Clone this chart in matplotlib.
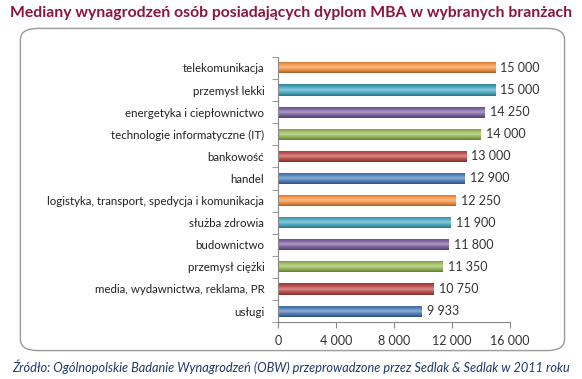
import matplotlib

matplotlib.use("Agg")
import matplotlib.pyplot as plt
import numpy as np
from matplotlib.colors import LinearSegmentedColormap, to_rgb
from matplotlib.patches import FancyBboxPatch

TITLE = "Mediany wynagrodzeń osób posiadających dyplom MBA w wybranych branżach"
SOURCE = "Źródło: Ogólnopolskie Badanie Wynagrodzeń (OBW) przeprowadzone przez Sedlak & Sedlak w 2011 roku"

categories = [
    "telekomunikacja",
    "przemysł lekki",
    "energetyka i ciepłownictwo",
    "technologie informatyczne (IT)",
    "bankowość",
    "handel",
    "logistyka, transport, spedycja i komunikacja",
    "służba zdrowia",
    "budownictwo",
    "przemysł ciężki",
    "media, wydawnictwa, reklama, PR",
    "usługi",
]
values = [15000, 15000, 14250, 14000, 13000, 12900, 12250, 11900, 11800, 11350, 10750, 9933]
colors = ["#F79646", "#4BACC6", "#8064A2", "#9BBB59", "#C0504D", "#4F81BD"] * 2
xticks = [0, 4000, 8000, 12000, 16000]

FONT = "Lato"


def fmt(v):
    return f"{v:,}".replace(",", " ")


def shade(c, f):
    r, g, b = to_rgb(c)
    if f < 1:
        return (r * f, g * f, b * f)
    return tuple(x + (1 - x) * (f - 1) for x in (r, g, b))


fig = plt.figure(figsize=(5.82, 3.79), dpi=100)
fig.patch.set_facecolor("white")

# rounded frame around the chart, behind the axes
frame = FancyBboxPatch((0.035, 0.075), 0.935, 0.85, boxstyle="round,pad=0,rounding_size=0.03",
                       transform=fig.transFigure, facecolor="white", edgecolor="#9A9A9A", lw=1.0,
                       zorder=-1)
fig.patches.append(frame)

ax = fig.add_axes([0.478, 0.150, 0.398, 0.700])
ax.set_facecolor("none")
ax.set_zorder(2)
ypos = np.arange(len(categories))[::-1]
h = 0.5
bars = ax.barh(ypos, values, height=h, color=colors, edgecolor="none")
for bar, v, c, y in zip(bars, values, colors, ypos):
    cmap = LinearSegmentedColormap.from_list(
        "g", [shade(c, 0.65), shade(c, 0.95), shade(c, 1.35), shade(c, 1.0), shade(c, 0.75)])
    grad = np.linspace(0, 1, 64).reshape(-1, 1)
    im = ax.imshow(grad, extent=(0, v, y - h / 2, y + h / 2), origin="lower", aspect="auto",
                   cmap=cmap, zorder=2)
    im.set_clip_path(bar)
    ax.text(v + 350, y, fmt(v), va="center", ha="left", fontsize=9, color="#333333",
            family=FONT)

ax.set_xlim(0, 16000)
ax.set_ylim(-0.5, len(categories) - 0.5)
ax.set_xticks(xticks)
ax.set_xticklabels([fmt(t) for t in xticks], fontsize=9, family=FONT, color="#333333")
ax.set_yticks(ypos)
ax.set_yticklabels(categories, fontsize=8.3, family=FONT, color="#222222")
ax.set_yticks(np.arange(-0.5, len(categories), 1), minor=True)
ax.tick_params(axis="y", which="major", length=0, pad=10)
ax.tick_params(axis="y", which="minor", length=4, color="#888888")
ax.tick_params(axis="x", length=4, color="#888888", pad=5)
for s in ["top", "right"]:
    ax.spines[s].set_visible(False)
ax.spines["left"].set_color("#888888")
ax.spines["bottom"].set_color("#888888")

fig.text(0.5, 0.965, TITLE, ha="center", va="center", fontsize=11.3, fontweight="bold",
         color="#8B1538", family=FONT)
fig.text(0.5, 0.032, SOURCE, ha="center", va="center", fontsize=9.2, style="italic",
         color="#1F3A6E", family=FONT)

fig.savefig("out.png", dpi=100)
